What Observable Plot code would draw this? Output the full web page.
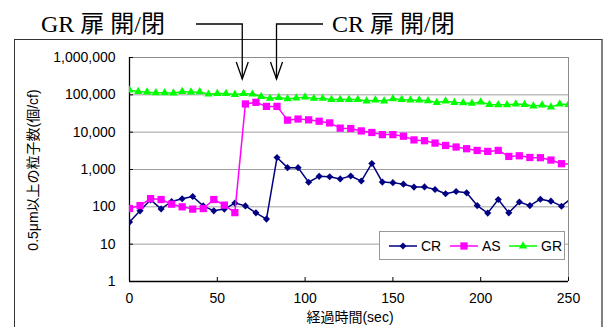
<!DOCTYPE html>
<html><head><meta charset="utf-8">
<script src="https://cdn.jsdelivr.net/npm/d3@7"></script>
<script src="https://cdn.jsdelivr.net/npm/@observablehq/plot@0.6"></script>
<style>
html,body{margin:0;padding:0;background:#fff;}
#chart{width:608px;height:327px;overflow:hidden;position:relative;}
#frame{position:absolute;left:14px;top:39px;width:586px;height:400px;border-top:1px solid #333;border-left:1px solid #333;border-right:2px solid #808080;pointer-events:none;}
</style></head><body><div id="chart"><div id="frame"></div></div>
<script>
// ---- data ----
const sampleTimes = [0,6,12,18,24,30,36,42,48,54,60,66,72,78,84,90,96,102,108,114,120,126,132,138,144,150,156,162,168,174,180,186,192,198,204,210,216,222,228,234,240,246,252];
const crValues = [39,78,154,88,139,164,189,106,78,87,126,106,69,47,2090,1120,1120,455,655,640,560,670,490,1450,460,445,405,338,342,290,225,257,237,108,68,157,69,135,108,160,142,104,175];
const asValues = [90,108,166,157,118,100,87,90,157,111,70,57000,63000,49000,49000,21000,22500,21400,19600,17700,12800,12500,10800,9800,8600,8600,7800,6200,5900,5100,4400,4000,3600,3240,3050,3240,2240,2330,2100,2070,1790,1430,1400];
const grTimes = [0,5,10,15,20,25,30,35,40,45,50,55,60,65,70,75,80,85,90,95,100,105,110,115,120,125,130,135,140,145,150,155,160,165,170,175,180,185,190,195,200,205,210,215,220,225,230,235,240,245,250];
const grValues = [133000,122000,118000,113000,113000,111000,122000,118000,120000,104000,108000,108000,102000,108000,104000,90000,80000,85000,78000,82000,86800,80000,80000,75000,75000,75000,75000,68000,72000,68000,78000,75000,72000,72000,69000,62000,68000,62000,61000,58800,64000,55000,54000,54000,56500,55000,50000,53000,47000,56500,55000];
const seriesNames = ["CR","AS","GR"];
const seriesColors = ["#000080","#ff00ff","#00ff00"];
const yTicks = [1,10,100,1000,10000,100000,1000000];
const xTicks = [0,50,100,150,200,250];
const eventLabels = ["GR 扉 開/閉","CR 扉 開/閉"];
const eventTimes = [64.5,84];
const xTitle = "経過時間(sec)";
const yTitle = "0.5μm以上の粒子数(個/cf)";

// ---- build table ----
const rows = [
  ...sampleTimes.map((t,i)=>({series:"CR", t, v:crValues[i]})),
  ...sampleTimes.map((t,i)=>({series:"AS", t, v:asValues[i]})),
  ...grTimes.map((t,i)=>({series:"GR", t, v:grValues[i]}))
];
const bySeries = s => rows.filter(d => d.series === s);
const colorOf = s => seriesColors[seriesNames.indexOf(s)];

const W=608, H=327, mL=129, mR=40, mT=57, mB=46;
const font = '"Liberation Sans", Arial, "Noto Sans CJK JP", sans-serif';
const symbolSpec = {CR:{symbol:"diamond2", r:3.2}, AS:{symbol:"square", r:4.1}, GR:{symbol:"triangle", r:3.1}};

const seriesMarks = seriesNames.flatMap(s => [
  Plot.line(bySeries(s), {x:"t", y:"v", stroke:colorOf(s), strokeWidth:1.5, clip:true}),
  Plot.dot(bySeries(s), {x:"t", y:"v", symbol:symbolSpec[s].symbol, r:symbolSpec[s].r, fill:colorOf(s), stroke:"none", clip:true})
]);

const plot = Plot.plot({
  width:W, height:H, marginLeft:mL, marginRight:mR, marginTop:mT, marginBottom:mB,
  style:{fontFamily:font, fontSize:"14px", color:"#000", background:"transparent", overflow:"visible", position:"absolute", left:"0", top:"0"},
  x:{domain:[0,250]},
  y:{type:"log", domain:[1,1e6]},
  marks:[
    Plot.ruleY(yTicks.slice(1,-1), {stroke:"#a0a0a0", strokeWidth:1}),
    Plot.ruleY([yTicks[yTicks.length-1]], {stroke:"#8c8c8c", strokeWidth:1}),
    Plot.ruleX([xTicks[xTicks.length-1]], {stroke:"#8c8c8c", strokeWidth:1}),
    Plot.tickX(xTicks, {x:d=>d, insetTop:H-mT-mB-4, stroke:"#000"}),
    Plot.tickY(yTicks, {y:d=>d, insetRight:W-mL-mR-4, stroke:"#000"}),
    Plot.axisY({ticks:yTicks, tickFormat:d3.format(","), tickSize:0, tickPadding:14, label:null, fill:"#000"}),
    Plot.axisX({ticks:xTicks, tickSize:0, tickPadding:12, label:null, fill:"#000"}),
    Plot.ruleX([xTicks[0]], {stroke:"#000", strokeWidth:1.3}),
    Plot.ruleY([yTicks[0]], {stroke:"#000", strokeWidth:1.3}),
    ...seriesMarks
  ]
});
document.getElementById("chart").appendChild(plot);

const svg = d3.select(plot);
const xs = plot.scale("x");

// axis titles
svg.append("text").text(yTitle)
  .attr("transform","translate(33,170) rotate(-90)")
  .attr("text-anchor","middle").attr("dominant-baseline","central")
  .attr("font-family",font).attr("font-size",14).attr("fill","#000");
svg.append("text").text(xTitle)
  .attr("x",350).attr("y",317)
  .attr("text-anchor","middle").attr("dominant-baseline","central")
  .attr("font-family",font).attr("font-size",14).attr("fill","#000");

// event annotations with elbow arrows
const titleFont = '"Liberation Serif", "Times New Roman", "Noto Sans CJK JP", serif';
const ann = svg.append("g").attr("fill","none").attr("stroke","#000").attr("stroke-width",1.3);
const xg = xs.apply(eventTimes[0]), xc = xs.apply(eventTimes[1]);
const yArm = 24, yTip = 79, headH = 17, headW = 6;
ann.append("path").attr("d", `M196,${yArm} H${xg} V${yTip}`);
ann.append("path").attr("d", `M${xg-headW},${yTip-headH} L${xg},${yTip} L${xg+headW},${yTip-headH}`);
ann.append("path").attr("d", `M323,${yArm} H${xc} V${yTip}`);
ann.append("path").attr("d", `M${xc-headW},${yTip-headH} L${xc},${yTip} L${xc+headW},${yTip-headH}`);
[[eventLabels[0],41],[eventLabels[1],332]].forEach(([label,x]) => {
  svg.append("text").text(label).attr("x",x).attr("y",yArm)
    .attr("text-anchor","start").attr("dominant-baseline","central")
    .attr("font-family",titleFont).attr("font-size",24).attr("fill","#000");
});

// legend
const lg = svg.append("g");
lg.append("rect").attr("x",379.5).attr("y",231.5).attr("width",185).attr("height",28)
  .attr("fill","#fff").attr("stroke","#999");
const legendX = [389, 450, 509];
const symTypes = {CR:d3.symbolDiamond2, AS:d3.symbolSquare, GR:d3.symbolTriangle};
seriesNames.forEach((s,i) => {
  const x0 = legendX[i], yc = 246;
  lg.append("line").attr("x1",x0).attr("x2",x0+28).attr("y1",yc).attr("y2",yc)
    .attr("stroke",colorOf(s)).attr("stroke-width",1.5);
  const r = symbolSpec[s].r;
  lg.append("path").attr("d", d3.symbol(symTypes[s], Math.PI*r*r)())
    .attr("transform",`translate(${x0+14},${yc})`).attr("fill",colorOf(s));
  lg.append("text").text(s).attr("x",x0+32).attr("y",yc)
    .attr("text-anchor","start").attr("dominant-baseline","central")
    .attr("font-family",font).attr("font-size",14).attr("fill","#000");
});
</script>
</body></html>
